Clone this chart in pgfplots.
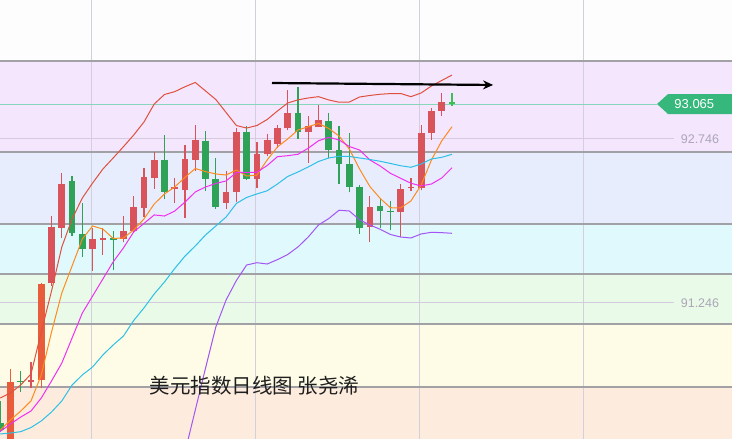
\documentclass[border=0pt]{standalone}
\usepackage{fontspec}
\setmainfont{Liberation Sans}
\newfontfamily\cjk{Noto Sans CJK SC}
\usepackage{pgfplots}
\usepackage{pgfplotstable}
\pgfplotsset{compat=1.18}
\usetikzlibrary{arrows.meta}

\definecolor{cred}{HTML}{D9545A}
\definecolor{cred2}{HTML}{E85C3C}
\definecolor{cgreen}{HTML}{2EA358}
\definecolor{cgreen2}{HTML}{3CC056}
\definecolor{bwhite}{HTML}{FDFDFD}
\definecolor{bpurple}{HTML}{F3E6FD}
\definecolor{bblue}{HTML}{E7EDFD}
\definecolor{bcyan}{HTML}{E0F9FC}
\definecolor{bgreen}{HTML}{E9FBE8}
\definecolor{byellow}{HTML}{FEFCE7}
\definecolor{borange}{HTML}{FDECDD}
\definecolor{gline}{HTML}{A2A2A6}
\definecolor{vline}{HTML}{D2D0DC}
\definecolor{lline}{HTML}{D4CCDE}
\definecolor{tline}{HTML}{86D6BC}
\definecolor{tag}{HTML}{36B77C}
\definecolor{lbl}{HTML}{ACA6B8}
\definecolor{maorange}{HTML}{FF8A1E}
\definecolor{mamag}{HTML}{F030F0}
\definecolor{macyan}{HTML}{2CC0E6}
\definecolor{bbup}{HTML}{E0503E}
\definecolor{bbdn}{HTML}{A256F5}

\pgfplotsset{
  candle/.style n args={3}{only marks, forget plot, mark size=0pt,
    mark options={draw=none, fill=none},
    error bars/.cd, y dir=#3, y explicit, error mark=none,
    error bar style={line width=#1, line cap=butt, draw=#2}},
}

% candles: i open high low close
\pgfplotstableread{
i o h l c
3 90.524 90.707 90.464 90.540
5 91.425 92.040 91.400 91.933
6 91.933 92.434 91.839 92.333
9 91.741 91.931 91.540 91.827
10 91.821 91.931 91.684 91.835
12 91.830 92.040 91.802 91.900
13 91.900 92.226 91.885 92.114
14 92.116 92.482 92.034 92.391
15 92.391 92.623 92.290 92.553
17 92.283 92.391 92.162 92.297
18 92.278 92.690 92.025 92.555
19 92.555 92.873 92.452 92.729
22 92.162 92.452 92.107 92.260
23 92.260 92.848 92.168 92.809
25 92.382 92.720 92.299 92.608
26 92.608 92.791 92.589 92.727
27 92.702 92.873 92.665 92.845
28 92.845 93.193 92.827 92.983
30 92.812 92.955 92.528 92.857
31 92.857 93.056 92.855 92.919
36 91.937 92.223 91.805 92.114
39 92.080 92.333 91.848 92.287
40 92.292 92.385 92.272 92.301
41 92.297 92.873 92.278 92.800
42 92.800 93.026 92.736 93.001
43 93.001 93.166 92.958 93.083
}\upc
\pgfplotstableread{
i o h l c
1 89.991 90.638 89.945 90.524
4 90.540 91.430 90.464 91.418
}\upb
\pgfplotstableread{
i o h l c
0 90.149 90.351 90.064 90.089
2 90.531 90.625 90.433 90.522
7 92.361 92.406 91.857 91.885
8 91.876 92.162 91.668 91.738
11 91.836 91.906 91.546 91.821
16 92.555 92.781 92.199 92.263
20 92.729 92.818 92.272 92.379
21 92.379 92.568 92.107 92.123
24 92.809 92.864 92.370 92.379
29 92.983 93.223 92.745 92.812
32 92.909 92.983 92.568 92.647
33 92.644 92.864 92.336 92.519
34 92.516 92.802 92.257 92.308
35 92.308 92.321 91.878 91.937
37 92.132 92.193 91.933 92.089
38 92.086 92.178 91.912 92.077
}\dnc
\pgfplotstableread{
i o h l c
44 93.083 93.166 93.047 93.065
}\dnl

\begin{document}
\begin{tikzpicture}
\begin{axis}[
  scale only axis, width=732bp, height=439bp,
  xmin=-0.02, xmax=71.27, ymin=90.0, ymax=94.0165,
  hide axis, clip=true,
]
% background bands
\fill[bwhite] (axis cs:-2,93.458) rectangle (axis cs:80,94.2);
\fill[bpurple] (axis cs:-2,92.626) rectangle (axis cs:80,93.458);
\fill[bblue] (axis cs:-2,91.967) rectangle (axis cs:80,92.626);
\fill[bcyan] (axis cs:-2,91.510) rectangle (axis cs:80,91.967);
\fill[bgreen] (axis cs:-2,91.052) rectangle (axis cs:80,91.510);
\fill[byellow] (axis cs:-2,90.476) rectangle (axis cs:80,91.052);
\fill[borange] (axis cs:-2,89.8) rectangle (axis cs:80,90.476);
% vertical grid
\draw[vline, line width=0.9bp] (axis cs:8.89,89.8) -- (axis cs:8.89,94.2);
\draw[vline, line width=0.9bp] (axis cs:24.86,89.8) -- (axis cs:24.86,94.2);
\draw[vline, line width=0.9bp] (axis cs:40.84,89.8) -- (axis cs:40.84,94.2);
\draw[vline, line width=0.9bp] (axis cs:56.81,89.8) -- (axis cs:56.81,94.2);
% horizontal band lines
\draw[gline, line width=1.1bp] (axis cs:-2,93.458) -- (axis cs:80,93.458);
\draw[gline, line width=1.1bp] (axis cs:-2,92.626) -- (axis cs:80,92.626);
\draw[gline, line width=1.1bp] (axis cs:-2,91.967) -- (axis cs:80,91.967);
\draw[gline, line width=1.1bp] (axis cs:-2,91.510) -- (axis cs:80,91.510);
\draw[gline, line width=1.1bp] (axis cs:-2,91.052) -- (axis cs:80,91.052);
\draw[gline, line width=1.1bp] (axis cs:-2,90.476) -- (axis cs:80,90.476);
\draw[lline, line width=0.8bp] (axis cs:-2,92.746) -- (axis cs:65.62,92.746);
\draw[lline, line width=0.8bp] (axis cs:-2,91.246) -- (axis cs:65.62,91.246);
\draw[tline, line width=0.9bp] (axis cs:-2,93.065) -- (axis cs:64,93.065);

% wicks
\addplot[candle={1.2bp}{cred}{plus}] table[x=i, y=l, y error plus expr={\thisrow{h}-\thisrow{l}}] {\upc};
\addplot[candle={1.2bp}{cred2}{plus}] table[x=i, y=l, y error plus expr={\thisrow{h}-\thisrow{l}}] {\upb};
\addplot[candle={1.2bp}{cgreen}{plus}] table[x=i, y=l, y error plus expr={\thisrow{h}-\thisrow{l}}] {\dnc};
\addplot[candle={1.2bp}{cgreen2}{plus}] table[x=i, y=l, y error plus expr={\thisrow{h}-\thisrow{l}}] {\dnl};
% bodies
\addplot[candle={6.7bp}{cred}{plus}] table[x=i, y=o, y error plus expr={\thisrow{c}-\thisrow{o}+0.004}] {\upc};
\addplot[candle={6.7bp}{cred2}{plus}] table[x=i, y=o, y error plus expr={\thisrow{c}-\thisrow{o}}] {\upb};
\addplot[candle={6.7bp}{cgreen}{minus}] table[x=i, y=o, y error minus expr={\thisrow{o}-\thisrow{c}+0.004}] {\dnc};
\addplot[candle={6.7bp}{cgreen2}{minus}] table[x=i, y=o, y error minus expr={\thisrow{o}-\thisrow{c}+0.004}] {\dnl};

% MA5
\addplot[maorange, line width=1bp, mark=none] coordinates {
(0,90.082)(1,90.174)(2,90.256)(3,90.348)(4,90.586)(5,90.979)(6,91.336)(7,91.583)(8,91.830)(9,91.949)
(10,91.921)(11,91.835)(12,91.839)(13,91.912)(14,92.013)(15,92.150)(16,92.242)(17,92.306)(18,92.394)(19,92.475)
(20,92.446)(21,92.425)(22,92.415)(23,92.461)(24,92.406)(25,92.415)(26,92.553)(27,92.672)(28,92.745)(29,92.827)
(30,92.857)(31,92.888)(32,92.841)(33,92.772)(34,92.653)(35,92.470)(36,92.310)(37,92.202)(38,92.116)(39,92.114)
(40,92.178)(41,92.324)(42,92.553)(43,92.727)(44,92.857)};
% MA10
\addplot[mamag, line width=1bp, mark=none] coordinates {
(0,90.069)(1,90.137)(2,90.201)(3,90.256)(4,90.375)(5,90.531)(6,90.695)(7,90.924)(8,91.153)(9,91.308)
(10,91.464)(11,91.620)(12,91.748)(13,91.894)(14,91.972)(15,92.050)(16,92.040)(17,92.086)(18,92.168)(19,92.260)
(20,92.306)(21,92.338)(22,92.361)(23,92.438)(24,92.440)(25,92.440)(26,92.502)(27,92.583)(28,92.592)(29,92.605)
(30,92.660)(31,92.729)(32,92.760)(33,92.736)(34,92.676)(35,92.644)(36,92.553)(37,92.498)(38,92.431)(39,92.385)
(40,92.340)(41,92.315)(42,92.333)(43,92.388)(44,92.482)};
% MA20
\addplot[macyan, line width=1bp, mark=none] coordinates {
(0,90.046)(1,90.055)(2,90.067)(3,90.105)(4,90.165)(5,90.247)(6,90.348)(7,90.494)(8,90.586)(9,90.659)
(10,90.769)(11,90.860)(12,90.942)(13,91.084)(14,91.199)(15,91.327)(16,91.437)(17,91.560)(18,91.674)(19,91.766)
(20,91.867)(21,91.949)(22,92.031)(23,92.155)(24,92.210)(25,92.242)(26,92.271)(27,92.333)(28,92.402)(29,92.443)
(30,92.489)(31,92.539)(32,92.571)(33,92.587)(34,92.585)(35,92.571)(36,92.557)(37,92.541)(38,92.521)(39,92.500)
(40,92.486)(41,92.516)(42,92.562)(43,92.577)(44,92.605)};
% upper band
\addplot[bbup, line width=1bp, mark=none] coordinates {
(0,90.375)(1,90.421)(2,90.494)(3,90.595)(4,90.979)(5,91.354)(6,91.757)(7,92.013)(8,92.205)(9,92.342)
(10,92.470)(11,92.571)(12,92.674)(13,92.781)(14,92.900)(15,93.065)(16,93.152)(17,93.178)(18,93.223)(19,93.262)
(20,93.184)(21,93.106)(22,92.987)(23,92.868)(24,92.845)(25,92.868)(26,92.923)(27,93.001)(28,93.074)(29,93.103)
(30,93.120)(31,93.132)(32,93.102)(33,93.081)(34,93.083)(35,93.129)(36,93.143)(37,93.154)(38,93.160)(39,93.161)
(40,93.132)(41,93.166)(42,93.230)(43,93.280)(44,93.330)};
% lower band
\addplot[bbdn, line width=1bp, mark=none] coordinates {
(15,88.802)(16,89.122)(17,89.497)(18,89.881)(19,90.265)
(20,90.650)(21,91.025)(22,91.272)(23,91.450)(24,91.592)(25,91.613)(26,91.601)(27,91.641)(28,91.688)(29,91.757)
(30,91.848)(31,91.958)(32,92.017)(33,92.093)(34,92.086)(35,92.006)(36,91.958)(37,91.919)(38,91.871)(39,91.848)
(40,91.839)(41,91.876)(42,91.891)(43,91.888)(44,91.882)};

% arrow
\draw[black, line width=2.2bp, -{Stealth[length=10bp,width=9bp]}] (axis cs:26.47,93.257) -- (axis cs:48.0,93.239);

% price tag
\fill[tag] (axis cs:63.97,93.065) -- (axis cs:65.04,93.156) -- (axis cs:72,93.156) -- (axis cs:72,92.973) -- (axis cs:65.04,92.973) -- cycle;
\node[text=white, font=\fontsize{13bp}{14bp}\selectfont, inner sep=0pt] at (axis cs:67.6,93.065) {93.065};
\node[text=lbl, font=\fontsize{12.5bp}{14bp}\selectfont, inner sep=0pt] at (axis cs:68.15,92.746) {92.746};
\node[text=lbl, font=\fontsize{12.5bp}{14bp}\selectfont, inner sep=0pt] at (axis cs:68.15,91.246) {91.246};

% caption
\node[text=black!88, font=\cjk\fontsize{20.5bp}{22bp}\selectfont, inner sep=0pt] at (axis cs:24.75,90.487) {美元指数日线图 张尧浠};
\end{axis}
\pgfresetboundingbox
\path[use as bounding box] (current axis.south west) rectangle (current axis.north east);
\end{tikzpicture}
\end{document}
